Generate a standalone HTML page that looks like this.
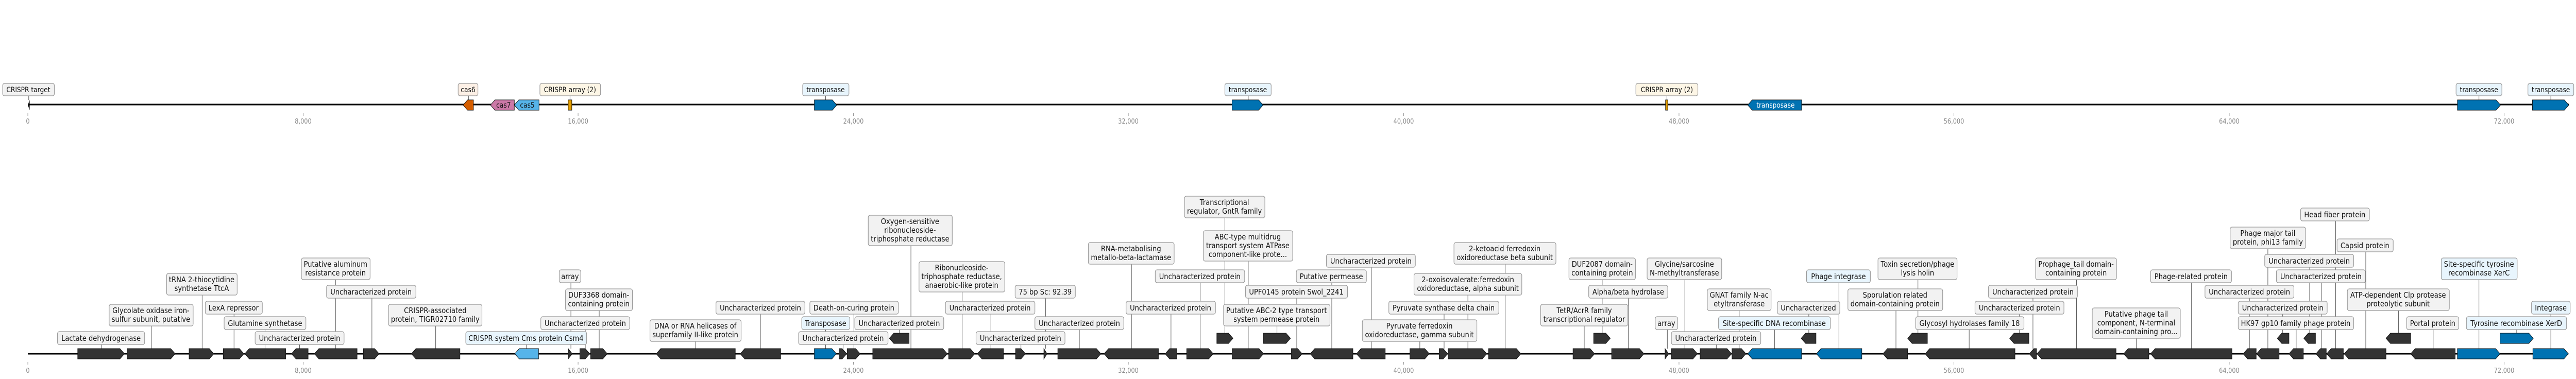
<!DOCTYPE html>
<html><head><meta charset="utf-8"><style>
html,body{margin:0;padding:0;background:#fff;width:100%;height:100%;overflow:hidden}
svg{display:block;position:absolute;left:0;top:0;width:100vw;height:100vh}
text{font-family:"DejaVu Sans","Liberation Sans",sans-serif}
.lb{fill:#f2f2f2;stroke:#999;stroke-width:1.3}
.bl{fill:#e8f5fd;stroke:#999;stroke-width:1.3}
.t{font-size:15px;fill:#111;text-anchor:middle}
.tt{font-size:14px;fill:#111;text-anchor:middle}
.k{font-size:13px;fill:#888;text-anchor:middle}
.c{stroke:#444;stroke-width:1}
.g{fill:#333;stroke:#111;stroke-width:1}
.b{fill:#0072b2;stroke:#111;stroke-width:1}
</style></head><body>
<svg viewBox="0 0 5735 736" preserveAspectRatio="none" xmlns="http://www.w3.org/2000/svg">
<!-- TOP TRACK -->
<line x1="64" y1="203" x2="5719" y2="203" stroke="#000" stroke-width="3"/>
<g stroke="#888" stroke-width="1">
<line x1="62" y1="219" x2="62" y2="225"/><line x1="675" y1="219" x2="675" y2="225"/><line x1="1287" y1="219" x2="1287" y2="225"/><line x1="1900" y1="219" x2="1900" y2="225"/><line x1="2512" y1="219" x2="2512" y2="225"/><line x1="3125" y1="219" x2="3125" y2="225"/><line x1="3738" y1="219" x2="3738" y2="225"/><line x1="4350" y1="219" x2="4350" y2="225"/><line x1="4963" y1="219" x2="4963" y2="225"/><line x1="5575" y1="219" x2="5575" y2="225"/>
</g>
<g class="k">
<text x="62" y="240">0</text><text x="675" y="240">8,000</text><text x="1287" y="240">16,000</text><text x="1900" y="240">24,000</text><text x="2512" y="240">32,000</text><text x="3125" y="240">40,000</text><text x="3738" y="240">48,000</text><text x="4350" y="240">56,000</text><text x="4963" y="240">64,000</text><text x="5575" y="240">72,000</text>
</g>
<g class="c">
<line x1="64" y1="186" x2="64" y2="194"/><line x1="1043" y1="186" x2="1043" y2="194"/><line x1="1269" y1="186" x2="1269" y2="194"/><line x1="1838" y1="186" x2="1838" y2="194"/><line x1="2779" y1="186" x2="2779" y2="194"/><line x1="3711" y1="186" x2="3711" y2="194"/><line x1="5519" y1="186" x2="5519" y2="194"/><line x1="5679" y1="186" x2="5679" y2="194"/>
</g>
<path d="M66,194L62,204L66,214Z" fill="#000"/>
<path d="M1054,194H1041l-10,10l10,10H1054Z" fill="#d55e00" stroke="#111"/>
<path d="M1145,194H1102l-10,10l10,10H1145Z" fill="#cc79a7" stroke="#111"/>
<path d="M1200,194H1155l-10,10l10,10H1200Z" fill="#56b4e9" stroke="#111"/>
<text x="1121" y="209" class="tt">cas7</text>
<text x="1174" y="209" class="tt">cas5</text>
<rect x="1265" y="194" width="8" height="20" fill="#e69f00" stroke="#111"/>
<path class="b" d="M1813,194H1853l10,10l-10,10H1813Z"/>
<path class="b" d="M2743,194H2802l10,10l-10,10H2743Z"/>
<rect x="3708" y="194" width="5" height="20" fill="#e69f00" stroke="#111"/>
<path class="b" d="M4011,194H3901l-10,10l10,10H4011Z"/>
<text x="3953" y="209" class="tt" style="fill:#fff">transposase</text>
<path class="b" d="M5471,194H5557l10,10l-10,10H5471Z"/>
<path class="b" d="M5638,194H5709l10,10l-10,10H5638Z"/>
<rect x="6" y="162" width="115" height="24" rx="4" class="lb"/><text x="63" y="179" class="tt">CRISPR target</text>
<rect x="1020" y="162" width="44" height="24" rx="4" fill="#fdf0e6" stroke="#999" stroke-width="1.3"/><text x="1042" y="179" class="tt">cas6</text>
<rect x="1202" y="162" width="135" height="24" rx="4" fill="#fdf6e6" stroke="#999" stroke-width="1.3"/><text x="1269" y="179" class="tt">CRISPR array (2)</text>
<rect x="1787" y="162" width="103" height="24" rx="4" class="bl"/><text x="1838" y="179" class="tt">transposase</text>
<rect x="2727" y="162" width="103" height="24" rx="4" class="bl"/><text x="2778" y="179" class="tt">transposase</text>
<rect x="3642" y="162" width="138" height="24" rx="4" fill="#fdf6e6" stroke="#999" stroke-width="1.3"/><text x="3711" y="179" class="tt">CRISPR array (2)</text>
<rect x="5468" y="162" width="102" height="24" rx="4" class="bl"/><text x="5519" y="179" class="tt">transposase</text>
<rect x="5628" y="162" width="102" height="24" rx="4" class="bl"/><text x="5679" y="179" class="tt">transposase</text>

<!-- BOTTOM TRACK -->
<line x1="62" y1="687" x2="5718" y2="687" stroke="#000" stroke-width="3"/>
<g stroke="#888" stroke-width="1">
<line x1="62" y1="703" x2="62" y2="708"/><line x1="675" y1="703" x2="675" y2="708"/><line x1="1287" y1="703" x2="1287" y2="708"/><line x1="1900" y1="703" x2="1900" y2="708"/><line x1="2512" y1="703" x2="2512" y2="708"/><line x1="3125" y1="703" x2="3125" y2="708"/><line x1="3738" y1="703" x2="3738" y2="708"/><line x1="4350" y1="703" x2="4350" y2="708"/><line x1="4963" y1="703" x2="4963" y2="708"/><line x1="5575" y1="703" x2="5575" y2="708"/>
</g>
<g class="k">
<text x="62" y="724">0</text><text x="675" y="724">8,000</text><text x="1287" y="724">16,000</text><text x="1900" y="724">24,000</text><text x="2512" y="724">32,000</text><text x="3125" y="724">40,000</text><text x="3738" y="724">48,000</text><text x="4350" y="724">56,000</text><text x="4963" y="724">64,000</text><text x="5575" y="724">72,000</text>
</g>
<g class="c">
<line x1="226" y1="669" x2="226" y2="677"/>
<line x1="337" y1="633" x2="337" y2="677"/>
<line x1="450" y1="573" x2="450" y2="677"/>
<line x1="521" y1="610" x2="521" y2="677"/>
<line x1="590" y1="640" x2="590" y2="677"/>
<line x1="667" y1="669" x2="667" y2="677"/>
<line x1="747" y1="543" x2="747" y2="677"/>
<line x1="828" y1="579" x2="828" y2="677"/>
<line x1="970" y1="633" x2="970" y2="677"/>
<line x1="1172" y1="669" x2="1172" y2="677"/>
<line x1="1271" y1="549" x2="1271" y2="677"/>
<line x1="1303" y1="640" x2="1303" y2="677"/>
<line x1="1334" y1="603" x2="1334" y2="677"/>
<line x1="1549" y1="663" x2="1549" y2="677"/>
<line x1="1693" y1="610" x2="1693" y2="677"/>
<line x1="1838" y1="640" x2="1838" y2="677"/>
<line x1="1877" y1="669" x2="1877" y2="677"/>
<line x1="1901" y1="610" x2="1901" y2="677"/>
<line x1="2002" y1="640" x2="2002" y2="647"/>
<line x1="2028" y1="477" x2="2028" y2="677"/>
<line x1="2142" y1="567" x2="2142" y2="677"/>
<line x1="2206" y1="610" x2="2206" y2="677"/>
<line x1="2273" y1="669" x2="2273" y2="677"/>
<line x1="2328" y1="579" x2="2328" y2="677"/>
<line x1="2403" y1="640" x2="2403" y2="677"/>
<line x1="2519" y1="513" x2="2519" y2="677"/>
<line x1="2607" y1="610" x2="2607" y2="677"/>
<line x1="2672" y1="549" x2="2672" y2="677"/>
<line x1="2727" y1="423" x2="2727" y2="647"/>
<line x1="2779" y1="507" x2="2779" y2="677"/>
<line x1="2887" y1="579" x2="2887" y2="677"/>
<line x1="2843" y1="633" x2="2843" y2="647"/>
<line x1="2965" y1="549" x2="2965" y2="677"/>
<line x1="3053" y1="519" x2="3053" y2="677"/>
<line x1="3161" y1="663" x2="3161" y2="677"/>
<line x1="3215" y1="610" x2="3215" y2="677"/>
<line x1="3268" y1="573" x2="3268" y2="677"/>
<line x1="3351" y1="513" x2="3351" y2="677"/>
<line x1="3527" y1="633" x2="3527" y2="677"/>
<line x1="3567" y1="543" x2="3567" y2="647"/>
<line x1="3625" y1="579" x2="3625" y2="677"/>
<line x1="3712" y1="640" x2="3712" y2="677"/>
<line x1="3751" y1="543" x2="3751" y2="677"/>
<line x1="3821" y1="669" x2="3821" y2="677"/>
<line x1="3872" y1="603" x2="3872" y2="677"/>
<line x1="3951" y1="640" x2="3951" y2="677"/>
<line x1="4027" y1="610" x2="4027" y2="647"/>
<line x1="4094" y1="549" x2="4094" y2="677"/>
<line x1="4221" y1="603" x2="4221" y2="677"/>
<line x1="4270" y1="543" x2="4270" y2="647"/>
<line x1="4384" y1="640" x2="4384" y2="677"/>
<line x1="4496" y1="610" x2="4496" y2="647"/>
<line x1="4526" y1="579" x2="4526" y2="677"/>
<line x1="4623" y1="543" x2="4623" y2="677"/>
<line x1="4756" y1="657" x2="4756" y2="677"/>
<line x1="4879" y1="549" x2="4879" y2="677"/>
<line x1="5008" y1="579" x2="5008" y2="677"/>
<line x1="5049" y1="483" x2="5049" y2="677"/>
<line x1="5082" y1="610" x2="5082" y2="647"/>
<line x1="5112" y1="640" x2="5112" y2="677"/>
<line x1="5142" y1="519" x2="5142" y2="647"/>
<line x1="5168" y1="549" x2="5168" y2="677"/>
<line x1="5200" y1="429" x2="5200" y2="677"/>
<line x1="5267" y1="489" x2="5267" y2="677"/>
<line x1="5340" y1="603" x2="5340" y2="647"/>
<line x1="5417" y1="640" x2="5417" y2="677"/>
<line x1="5519" y1="543" x2="5519" y2="677"/>
<line x1="5603" y1="640" x2="5603" y2="647"/>
<line x1="5679" y1="610" x2="5679" y2="677"/>
</g>
<g class="g">
<path d="M173,677H267l10,10l-10,10H173Z"/>
<path d="M283,677H380l10,10l-10,10H283Z"/>
<path d="M421,677H466l10,10l-10,10H421Z"/>
<path d="M497,677H533l10,10l-10,10H497Z"/>
<path d="M636,677H555l-10,10l10,10H636Z"/>
<path d="M686,677H659l-10,10l10,10H686Z"/>
<path d="M795,677H710l-10,10l10,10H795Z"/>
<path d="M809,677H834l10,10l-10,10H809Z"/>
<path d="M1024,677H926l-10,10l10,10H1024Z"/>
<path d="M1265,677L1274,687L1265,697Z"/>
<path d="M1291,677H1303l10,10l-10,10H1291Z"/>
<path d="M1315,677H1342l10,10l-10,10H1315Z"/>
<path d="M1637,677H1471l-10,10l10,10H1637Z"/>
<path d="M1738,677H1658l-10,10l10,10H1738Z"/>
<path d="M1868,677H1875l10,10l-10,10H1868Z"/>
<path d="M1886,677H1905l10,10l-10,10H1886Z"/>
<path d="M2024,647H1990l-10,10l10,10H2024Z"/>
<path d="M1943,677H2099l10,10l-10,10H1943Z"/>
<path d="M2112,677H2160l10,10l-10,10H2112Z"/>
<path d="M2234,677H2186l-10,10l10,10H2234Z"/>
<path d="M2261,677H2273l10,10l-10,10H2261Z"/>
<path d="M2324,677L2331,687L2324,697Z"/>
<path d="M2355,677H2441l10,10l-10,10H2355Z"/>
<path d="M2579,677H2468l-10,10l10,10H2579Z"/>
<path d="M2620,677H2604l-10,10l10,10H2620Z"/>
<path d="M2642,677H2691l10,10l-10,10H2642Z"/>
<path d="M2709,647H2735l10,10l-10,10H2709Z"/>
<path d="M2743,677H2803l10,10l-10,10H2743Z"/>
<path d="M2813,647H2863l10,10l-10,10H2813Z"/>
<path d="M2875,677H2889l10,10l-10,10H2875Z"/>
<path d="M3012,677H2927l-10,10l10,10H3012Z"/>
<path d="M3084,677H3030l-10,10l10,10H3084Z"/>
<path d="M3139,677H3172l10,10l-10,10H3139Z"/>
<path d="M3204,677H3213l10,10l-10,10H3204Z"/>
<path d="M3224,677H3300l10,10l-10,10H3224Z"/>
<path d="M3314,677H3376l10,10l-10,10H3314Z"/>
<path d="M3502,677H3540l10,10l-10,10H3502Z"/>
<path d="M3548,647H3575l10,10l-10,10H3548Z"/>
<path d="M3588,677H3650l10,10l-10,10H3588Z"/>
<path d="M3707,677L3715,687L3707,697Z"/>
<path d="M3721,677H3769l10,10l-10,10H3721Z"/>
<path d="M3785,677H3845l10,10l-10,10H3785Z"/>
<path d="M3856,677H3877l10,10l-10,10H3856Z"/>
<path d="M4043,647H4020l-10,10l10,10H4043Z"/>
<path d="M4247,677H4202l-10,10l10,10H4247Z"/>
<path d="M4291,647H4257l-10,10l10,10H4291Z"/>
<path d="M4486,677H4296l-10,10l10,10H4486Z"/>
<path d="M4517,647H4484l-10,10l10,10H4517Z"/>
<path d="M4534,677H4528l-10,10l10,10H4534Z"/>
<path d="M4711,677H4545l-10,10l10,10H4711Z"/>
<path d="M4784,677H4738l-10,10l10,10H4784Z"/>
<path d="M4969,677H4798l-10,10l10,10H4969Z"/>
<path d="M5023,677H5004l-10,10l10,10H5023Z"/>
<path d="M5074,677H5034l-10,10l10,10H5074Z"/>
<path d="M5096,647H5080l-10,10l10,10H5096Z"/>
<path d="M5128,677H5106l-10,10l10,10H5128Z"/>
<path d="M5155,647H5139l-10,10l10,10H5155Z"/>
<path d="M5179,677H5166l-10,10l10,10H5179Z"/>
<path d="M5217,677H5190l-10,10l10,10H5217Z"/>
<path d="M5312,677H5229l-10,10l10,10H5312Z"/>
<path d="M5367,647H5322l-10,10l10,10H5367Z"/>
<path d="M5466,677H5377l-10,10l10,10H5466Z"/>
</g>
<path d="M1199,677H1156l-10,10l10,10H1199Z" fill="#56b4e9" stroke="#111"/>
<g class="b">
<path d="M1813,677H1852l10,10l-10,10H1813Z"/>
<path d="M4011,677H3901l-10,10l10,10H4011Z"/>
<path d="M4145,677H4054l-10,10l10,10H4145Z"/>
<path d="M5471,677H5556l10,10l-10,10H5471Z"/>
<path d="M5566,647H5630l10,10l-10,10H5566Z"/>
<path d="M5639,677H5708l10,10l-10,10H5639Z"/>
</g>
<rect x="128" y="644" width="194" height="25" rx="4" class="lb"/><text x="225" y="662" class="t">Lactate dehydrogenase</text>
<rect x="243" y="591" width="187" height="42" rx="4" class="lb"/><text x="336" y="608" class="t">Glycolate oxidase iron-</text><text x="336" y="625" class="t">sulfur subunit, putative</text>
<rect x="371" y="531" width="157" height="42" rx="4" class="lb"/><text x="449" y="548" class="t">tRNA 2-thiocytidine</text><text x="449" y="565" class="t">synthetase TtcA</text>
<rect x="457" y="585" width="127" height="25" rx="4" class="lb"/><text x="520" y="603" class="t">LexA repressor</text>
<rect x="499" y="615" width="182" height="25" rx="4" class="lb"/><text x="590" y="633" class="t">Glutamine synthetase</text>
<rect x="568" y="644" width="198" height="25" rx="4" class="lb"/><text x="667" y="662" class="t">Uncharacterized protein</text>
<rect x="671" y="501" width="153" height="42" rx="4" class="lb"/><text x="747" y="518" class="t">Putative aluminum</text><text x="747" y="535" class="t">resistance protein</text>
<rect x="727" y="554" width="199" height="25" rx="4" class="lb"/><text x="826" y="572" class="t">Uncharacterized protein</text>
<rect x="865" y="591" width="208" height="42" rx="4" class="lb"/><text x="969" y="608" class="t">CRISPR-associated</text><text x="969" y="625" class="t">protein, TIGR02710 family</text>
<rect x="1037" y="644" width="269" height="25" rx="4" class="bl"/><text x="1171" y="662" class="t">CRISPR system Cms protein Csm4</text>
<rect x="1245" y="524" width="48" height="25" rx="4" class="lb"/><text x="1269" y="542" class="t">array</text>
<rect x="1204" y="615" width="198" height="25" rx="4" class="lb"/><text x="1303" y="633" class="t">Uncharacterized protein</text>
<rect x="1259" y="561" width="149" height="42" rx="4" class="lb"/><text x="1333" y="578" class="t">DUF3368 domain-</text><text x="1333" y="595" class="t">containing protein</text>
<rect x="1447" y="621" width="203" height="42" rx="4" class="lb"/><text x="1548" y="638" class="t">DNA or RNA helicases of</text><text x="1548" y="655" class="t">superfamily II-like protein</text>
<rect x="1594" y="585" width="198" height="25" rx="4" class="lb"/><text x="1693" y="603" class="t">Uncharacterized protein</text>
<rect x="1785" y="615" width="107" height="25" rx="4" class="bl"/><text x="1838" y="633" class="t">Transposase</text>
<rect x="1778" y="644" width="199" height="25" rx="4" class="lb"/><text x="1877" y="662" class="t">Uncharacterized protein</text>
<rect x="1803" y="585" width="197" height="25" rx="4" class="lb"/><text x="1901" y="603" class="t">Death-on-curing protein</text>
<rect x="1903" y="615" width="198" height="25" rx="4" class="lb"/><text x="2002" y="633" class="t">Uncharacterized protein</text>
<rect x="1933" y="418" width="187" height="59" rx="4" class="lb"/><text x="2026" y="435" class="t">Oxygen-sensitive</text><text x="2026" y="452" class="t">ribonucleoside-</text><text x="2026" y="469" class="t">triphosphate reductase</text>
<rect x="2046" y="508" width="191" height="59" rx="4" class="lb"/><text x="2141" y="525" class="t">Ribonucleoside-</text><text x="2141" y="542" class="t">triphosphate reductase,</text><text x="2141" y="559" class="t">anaerobic-like protein</text>
<rect x="2105" y="585" width="199" height="25" rx="4" class="lb"/><text x="2204" y="603" class="t">Uncharacterized protein</text>
<rect x="2173" y="644" width="198" height="25" rx="4" class="lb"/><text x="2272" y="662" class="t">Uncharacterized protein</text>
<rect x="2260" y="554" width="134" height="25" rx="4" class="lb"/><text x="2327" y="572" class="t">75 bp Sc: 92.39</text>
<rect x="2304" y="615" width="198" height="25" rx="4" class="lb"/><text x="2403" y="633" class="t">Uncharacterized protein</text>
<rect x="2423" y="471" width="191" height="42" rx="4" class="lb"/><text x="2518" y="488" class="t">RNA-metabolising</text><text x="2518" y="505" class="t">metallo-beta-lactamase</text>
<rect x="2507" y="585" width="199" height="25" rx="4" class="lb"/><text x="2606" y="603" class="t">Uncharacterized protein</text>
<rect x="2572" y="524" width="199" height="25" rx="4" class="lb"/><text x="2671" y="542" class="t">Uncharacterized protein</text>
<rect x="2637" y="381" width="179" height="42" rx="4" class="lb"/><text x="2726" y="398" class="t">Transcriptional</text><text x="2726" y="415" class="t">regulator, GntR family</text>
<rect x="2679" y="448" width="199" height="59" rx="4" class="lb"/><text x="2778" y="465" class="t">ABC-type multidrug</text><text x="2778" y="482" class="t">transport system ATPase</text><text x="2778" y="499" class="t">component-like prote...</text>
<rect x="2773" y="554" width="227" height="25" rx="4" class="lb"/><text x="2886" y="572" class="t">UPF0145 protein Swol_2241</text>
<rect x="2724" y="591" width="237" height="42" rx="4" class="lb"/><text x="2842" y="608" class="t">Putative ABC-2 type transport</text><text x="2842" y="625" class="t">system permease protein</text>
<rect x="2886" y="524" width="156" height="25" rx="4" class="lb"/><text x="2964" y="542" class="t">Putative permease</text>
<rect x="2953" y="494" width="198" height="25" rx="4" class="lb"/><text x="3052" y="512" class="t">Uncharacterized protein</text>
<rect x="3033" y="621" width="255" height="42" rx="4" class="lb"/><text x="3160" y="638" class="t">Pyruvate ferredoxin</text><text x="3160" y="655" class="t">oxidoreductase, gamma subunit</text>
<rect x="3092" y="585" width="245" height="25" rx="4" class="lb"/><text x="3214" y="603" class="t">Pyruvate synthase delta chain</text>
<rect x="3148" y="531" width="240" height="42" rx="4" class="lb"/><text x="3268" y="548" class="t">2-oxoisovalerate:ferredoxin</text><text x="3268" y="565" class="t">oxidoreductase, alpha subunit</text>
<rect x="3237" y="471" width="227" height="42" rx="4" class="lb"/><text x="3350" y="488" class="t">2-ketoacid ferredoxin</text><text x="3350" y="505" class="t">oxidoreductase beta subunit</text>
<rect x="3430" y="591" width="194" height="42" rx="4" class="lb"/><text x="3527" y="608" class="t">TetR/AcrR family</text><text x="3527" y="625" class="t">transcriptional regulator</text>
<rect x="3493" y="501" width="148" height="42" rx="4" class="lb"/><text x="3567" y="518" class="t">DUF2087 domain-</text><text x="3567" y="535" class="t">containing protein</text>
<rect x="3537" y="554" width="176" height="25" rx="4" class="lb"/><text x="3625" y="572" class="t">Alpha/beta hydrolase</text>
<rect x="3685" y="615" width="50" height="25" rx="4" class="lb"/><text x="3710" y="633" class="t">array</text>
<rect x="3667" y="501" width="166" height="42" rx="4" class="lb"/><text x="3750" y="518" class="t">Glycine/sarcosine</text><text x="3750" y="535" class="t">N-methyltransferase</text>
<rect x="3721" y="644" width="199" height="25" rx="4" class="lb"/><text x="3820" y="662" class="t">Uncharacterized protein</text>
<rect x="3801" y="561" width="142" height="42" rx="4" class="lb"/><text x="3872" y="578" class="t">GNAT family N-ac</text><text x="3872" y="595" class="t">etyltransferase</text>
<rect x="3826" y="615" width="249" height="25" rx="4" class="bl"/><text x="3950" y="633" class="t">Site-specific DNA recombinase</text>
<rect x="3957" y="585" width="139" height="25" rx="4" class="lb"/><text x="4026" y="603" class="t">Uncharacterized</text>
<rect x="4022" y="524" width="142" height="25" rx="4" class="bl"/><text x="4093" y="542" class="t">Phage integrase</text>
<rect x="4114" y="561" width="211" height="42" rx="4" class="lb"/><text x="4219" y="578" class="t">Sporulation related</text><text x="4219" y="595" class="t">domain-containing protein</text>
<rect x="4181" y="501" width="176" height="42" rx="4" class="lb"/><text x="4269" y="518" class="t">Toxin secretion/phage</text><text x="4269" y="535" class="t">lysis holin</text>
<rect x="4265" y="615" width="241" height="25" rx="4" class="lb"/><text x="4385" y="633" class="t">Glycosyl hydrolases family 18</text>
<rect x="4397" y="585" width="198" height="25" rx="4" class="lb"/><text x="4496" y="603" class="t">Uncharacterized protein</text>
<rect x="4427" y="554" width="198" height="25" rx="4" class="lb"/><text x="4526" y="572" class="t">Uncharacterized protein</text>
<rect x="4532" y="501" width="180" height="42" rx="4" class="lb"/><text x="4622" y="518" class="t">Prophage_tail domain-</text><text x="4622" y="535" class="t">containing protein</text>
<rect x="4658" y="598" width="196" height="59" rx="4" class="lb"/><text x="4756" y="615" class="t">Putative phage tail</text><text x="4756" y="632" class="t">component, N-terminal</text><text x="4756" y="649" class="t">domain-containing pro...</text>
<rect x="4788" y="524" width="180" height="25" rx="4" class="lb"/><text x="4878" y="542" class="t">Phage-related protein</text>
<rect x="4909" y="554" width="198" height="25" rx="4" class="lb"/><text x="5008" y="572" class="t">Uncharacterized protein</text>
<rect x="4965" y="441" width="168" height="42" rx="4" class="lb"/><text x="5049" y="458" class="t">Phage major tail</text><text x="5049" y="475" class="t">protein, phi13 family</text>
<rect x="4983" y="585" width="198" height="25" rx="4" class="lb"/><text x="5082" y="603" class="t">Uncharacterized protein</text>
<rect x="4983" y="615" width="257" height="25" rx="4" class="lb"/><text x="5111" y="633" class="t">HK97 gp10 family phage protein</text>
<rect x="5042" y="494" width="198" height="25" rx="4" class="lb"/><text x="5141" y="512" class="t">Uncharacterized protein</text>
<rect x="5068" y="524" width="198" height="25" rx="4" class="lb"/><text x="5167" y="542" class="t">Uncharacterized protein</text>
<rect x="5122" y="404" width="153" height="25" rx="4" class="lb"/><text x="5198" y="422" class="t">Head fiber protein</text>
<rect x="5203" y="464" width="125" height="25" rx="4" class="lb"/><text x="5265" y="482" class="t">Capsid protein</text>
<rect x="5226" y="561" width="227" height="42" rx="4" class="lb"/><text x="5339" y="578" class="t">ATP-dependent Clp protease</text><text x="5339" y="595" class="t">proteolytic subunit</text>
<rect x="5358" y="615" width="116" height="25" rx="4" class="lb"/><text x="5416" y="633" class="t">Portal protein</text>
<rect x="5435" y="501" width="169" height="42" rx="4" class="bl"/><text x="5519" y="518" class="t">Site-specific tyrosine</text><text x="5519" y="535" class="t">recombinase XerC</text>
<rect x="5491" y="615" width="223" height="25" rx="4" class="bl"/><text x="5602" y="633" class="t">Tyrosine recombinase XerD</text>
<rect x="5636" y="585" width="86" height="25" rx="4" class="bl"/><text x="5679" y="603" class="t">Integrase</text>
</svg>
</body></html>
